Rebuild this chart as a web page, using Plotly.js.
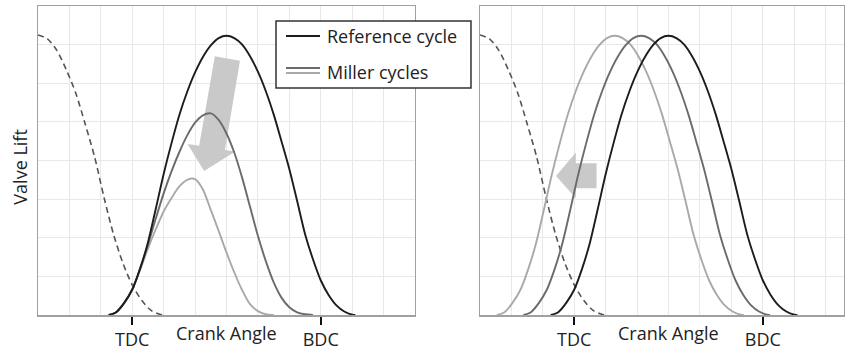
<!DOCTYPE html>
<html>
<head>
<meta charset="utf-8">
<script src="https://cdn.plot.ly/plotly-3.0.1.min.js"></script>
<style>
  html, body { margin: 0; padding: 0; background: #fff; }
  #chart { width: 845px; height: 352px; }
</style>
</head>
<body>
<div id="chart"></div>
<script>
// Exhaust valve lift (dashed), shared by both panels
const exhaustX = [0, 0.3, 0.6, 0.9, 1.2, 1.5, 1.8, 2.1, 2.4, 2.7, 3.0, 3.3, 3.6, 3.95];
const exhaustY = [7.25, 7.15, 6.85, 6.35, 5.75, 4.95, 4.1, 3.05, 2.1, 1.35, 0.78, 0.38, 0.12, 0.0];

// Reference intake cycle
const refX = [2.25, 2.5, 2.75, 3.0, 3.25, 3.5, 3.75, 4.0, 4.25, 4.5, 4.75, 5.0, 5.25, 5.5, 5.75, 6.0,
              6.25, 6.5, 6.75, 7.0, 7.25, 7.5, 7.75, 8.0, 8.25, 8.5, 8.75, 9.0, 9.25, 9.5, 9.75, 10.0, 10.1];
const refY = [0, 0.08, 0.32, 0.66, 1.2, 1.88, 2.75, 3.65, 4.45, 5.18, 5.78, 6.28, 6.68, 6.98, 7.17, 7.23,
              7.17, 7.0, 6.7, 6.3, 5.8, 5.2, 4.5, 3.78, 2.95, 2.1, 1.45, 0.9, 0.52, 0.25, 0.09, 0.01, 0];

// Miller cycles with reduced lift (left panel)
const liftAX = [2.25, 2.5, 2.75, 3.0, 3.25, 3.5, 3.75, 4.0, 4.25, 4.5, 4.75, 5.0, 5.25, 5.5, 5.75,
                6.0, 6.25, 6.5, 6.75, 7.0, 7.25, 7.5, 7.75, 8.0, 8.25, 8.5, 8.75];
const liftAY = [0, 0.08, 0.32, 0.66, 1.2, 1.82, 2.5, 3.15, 3.72, 4.22, 4.65, 4.98, 5.17, 5.22, 5.05,
                4.7, 4.2, 3.55, 2.8, 2.05, 1.4, 0.85, 0.45, 0.2, 0.07, 0.02, 0];
const liftBX = [2.25, 2.5, 2.75, 3.0, 3.25, 3.5, 3.75, 4.0, 4.25, 4.5, 4.75, 5.0, 5.25, 5.5,
                5.75, 6.0, 6.25, 6.5, 6.75, 7.0, 7.25, 7.5];
const liftBY = [0, 0.08, 0.32, 0.66, 1.17, 1.72, 2.22, 2.68, 3.03, 3.33, 3.5, 3.52, 3.25, 2.72,
                2.18, 1.62, 1.1, 0.64, 0.28, 0.1, 0.02, 0];

// Miller cycles with earlier valve timing (right panel)
const earlyAX = [1.38, 1.63, 1.88, 2.13, 2.38, 2.63, 2.88, 3.13, 3.38, 3.63, 3.88, 4.13, 4.38, 4.63, 4.88, 5.13,
                 5.38, 5.63, 5.88, 6.13, 6.38, 6.63, 6.88, 7.13, 7.38, 7.63, 7.88, 8.13, 8.38, 8.63, 8.88, 9.13, 9.23];
const earlyAY = [0, 0.08, 0.32, 0.66, 1.2, 1.88, 2.75, 3.65, 4.45, 5.18, 5.78, 6.28, 6.68, 6.98, 7.17, 7.23,
                 7.17, 7.0, 6.7, 6.3, 5.8, 5.2, 4.5, 3.78, 2.95, 2.1, 1.45, 0.9, 0.52, 0.25, 0.09, 0.01, 0];
const earlyBX = [0.54, 0.79, 1.04, 1.29, 1.54, 1.79, 2.04, 2.29, 2.54, 2.79, 3.04, 3.29, 3.54, 3.79, 4.04, 4.29,
                 4.54, 4.79, 5.04, 5.29, 5.54, 5.79, 6.04, 6.29, 6.54, 6.79, 7.04, 7.29, 7.54, 7.79, 8.04, 8.29, 8.39];
const earlyBY = [0, 0.08, 0.32, 0.66, 1.2, 1.88, 2.75, 3.65, 4.45, 5.18, 5.78, 6.28, 6.68, 6.98, 7.17, 7.23,
                 7.17, 7.0, 6.7, 6.3, 5.8, 5.2, 4.5, 3.78, 2.95, 2.1, 1.45, 0.9, 0.52, 0.25, 0.09, 0.01, 0];

const tickVals = [3, 9];
const tickText = ['TDC', 'BDC'];

const FONT = 'Open Sans, Noto Sans, sans-serif';
const C_REF = '#1c1c1c', C_MA = '#6b6b6b', C_MB = '#a9a9a9', C_EXH = '#555555';
const GRID = '#e8e8e8', FRAME = '#a0a0a0', ARROW = '#c9c9c9';

function line(x, y, color, xa, ya, dash) {
  return {
    x: x, y: y, type: 'scatter', mode: 'lines', xaxis: xa, yaxis: ya,
    line: { color: color, width: dash ? 1.6 : 1.9, shape: 'spline', smoothing: 0.8, dash: dash || 'solid' },
    hoverinfo: 'skip', showlegend: false
  };
}

const traces = [
  line(exhaustX, exhaustY, C_EXH, 'x', 'y', '6px,4px'),
  line(liftBX, liftBY, C_MB, 'x', 'y'),
  line(liftAX, liftAY, C_MA, 'x', 'y'),
  line(refX, refY, C_REF, 'x', 'y'),
  line(exhaustX, exhaustY, C_EXH, 'x2', 'y2', '6px,4px'),
  line(earlyBX, earlyBY, C_MB, 'x2', 'y2'),
  line(earlyAX, earlyAY, C_MA, 'x2', 'y2'),
  line(refX, refY, C_REF, 'x2', 'y2')
];

function xAxis(domain, range, anchor) {
  return {
    domain: domain, range: range, anchor: anchor,
    tickmode: 'array', tickvals: tickVals, ticktext: tickText,
    ticks: 'outside', ticklen: 8, tickwidth: 2, tickcolor: '#111',
    tickfont: { family: FONT, size: 18, color: '#222' },
    showgrid: true, gridcolor: GRID, gridwidth: 1,
    minor: { tickmode: 'linear', tick0: 0, dtick: 1, showgrid: true, gridcolor: GRID, gridwidth: 1, ticks: '' },
    showline: true, mirror: true, linecolor: FRAME, linewidth: 1.5,
    zeroline: false, fixedrange: true
  };
}
function yAxis(anchor) {
  return {
    domain: [0, 1], range: [0, 8], anchor: anchor,
    tickmode: 'linear', tick0: 0, dtick: 1, showticklabels: false, ticks: '',
    showgrid: true, gridcolor: GRID, gridwidth: 1,
    showline: true, mirror: true, linecolor: FRAME, linewidth: 1.5,
    zeroline: false, fixedrange: true
  };
}

function pathOf(pts) {
  return 'M ' + pts.map(p => p[0] + ',' + p[1]).join(' L ') + ' Z';
}

// Block arrows: lift reduction (left) and earlier timing (right)
const downArrow = [[5.63, 6.70], [6.43, 6.58], [5.95, 4.27], [6.28, 4.23], [5.29, 3.73], [4.76, 4.43], [5.13, 4.38]];
const leftArrow = [[2.42, 3.60], [3.05, 4.21], [3.05, 3.93], [3.71, 3.93], [3.71, 3.28], [3.05, 3.28], [3.05, 3.02]];

// Legend box geometry in paper units
const lgX0 = 0.2953, lgX1 = 0.5372, lgY0 = 0.7346, lgY1 = 0.9515;
const lgLineX0 = 0.3077, lgLineX1 = 0.3499, lgTextX = 0.3561;
const lgRowRef = 0.9029, lgRowMillerA = 0.7994, lgRowMillerB = 0.7832, lgRowMillerText = 0.7865;

const shapes = [
  { type: 'path', xref: 'x', yref: 'y', path: pathOf(downArrow), fillcolor: ARROW, line: { width: 0 }, layer: 'between' },
  { type: 'path', xref: 'x2', yref: 'y2', path: pathOf(leftArrow), fillcolor: ARROW, line: { width: 0 }, layer: 'between' },
  { type: 'rect', xref: 'paper', yref: 'paper', x0: lgX0, x1: lgX1, y0: lgY0, y1: lgY1,
    fillcolor: '#ffffff', line: { color: '#333', width: 1.5 }, layer: 'above' },
  { type: 'line', xref: 'paper', yref: 'paper', x0: lgLineX0, x1: lgLineX1, y0: lgRowRef, y1: lgRowRef,
    line: { color: C_REF, width: 1.9 }, layer: 'above' },
  { type: 'line', xref: 'paper', yref: 'paper', x0: lgLineX0, x1: lgLineX1, y0: lgRowMillerA, y1: lgRowMillerA,
    line: { color: C_MA, width: 1.9 }, layer: 'above' },
  { type: 'line', xref: 'paper', yref: 'paper', x0: lgLineX0, x1: lgLineX1, y0: lgRowMillerB, y1: lgRowMillerB,
    line: { color: C_MB, width: 1.9 }, layer: 'above' }
];

const txt = { family: FONT, size: 18, color: '#222' };
const annotations = [
  { xref: 'paper', yref: 'paper', x: lgTextX, y: lgRowRef, xanchor: 'left', yanchor: 'middle',
    text: 'Reference cycle', showarrow: false, font: txt },
  { xref: 'paper', yref: 'paper', x: lgTextX, y: lgRowMillerText, xanchor: 'left', yanchor: 'middle',
    text: 'Miller cycles', showarrow: false, font: txt },
  { xref: 'x', yref: 'paper', x: 6, y: -0.058, xanchor: 'center', yanchor: 'middle',
    text: 'Crank Angle', showarrow: false, font: txt },
  { xref: 'x2', yref: 'paper', x: 6, y: -0.058, xanchor: 'center', yanchor: 'middle',
    text: 'Crank Angle', showarrow: false, font: txt },
  { xref: 'paper', yref: 'paper', x: -0.0223, y: 0.477, xanchor: 'center', yanchor: 'middle',
    text: 'Valve Lift', textangle: -90, showarrow: false, font: txt }
];

const layout = {
  width: 845, height: 352,
  margin: { l: 38, r: 1, t: 6, b: 37, pad: 0 },
  paper_bgcolor: '#ffffff', plot_bgcolor: '#ffffff',
  showlegend: false,
  xaxis: xAxis([0, 0.4677], [0, 12], 'y'),
  yaxis: yAxis('x'),
  xaxis2: xAxis([0.5484, 1], [0, 11.585], 'y2'),
  yaxis2: yAxis('x2'),
  shapes: shapes,
  annotations: annotations
};

Plotly.newPlot('chart', traces, layout, { staticPlot: true, displayModeBar: false });
</script>
</body>
</html>
